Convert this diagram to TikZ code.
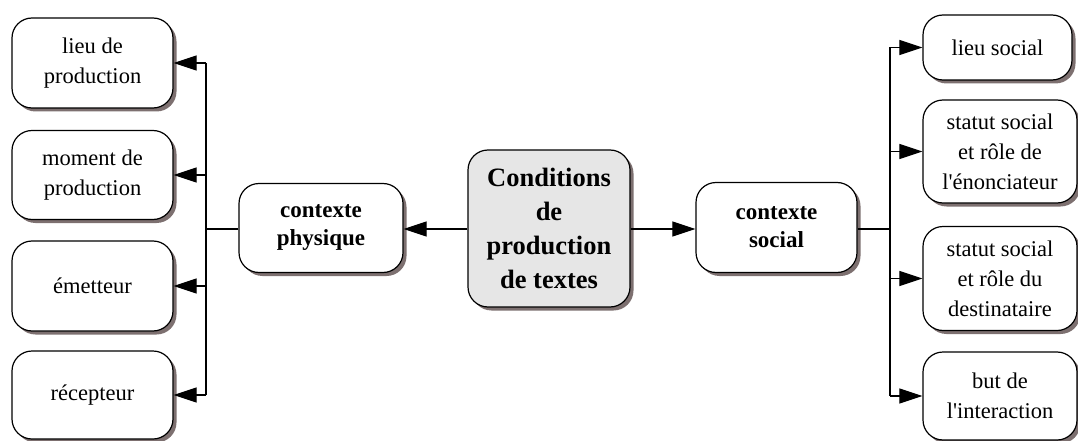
\documentclass[tikz,border=0pt]{standalone}
\usepackage{fontspec}
\setmainfont{Liberation Serif}
\usetikzlibrary{arrows.meta,shadows}
\definecolor{shadowc}{RGB}{125,112,112}
\definecolor{centerfill}{RGB}{230,230,230}
\tikzset{
  box/.style={draw, line width=1.2pt, rounded corners=20pt, fill=white, align=center,
    inner sep=0pt, font=\fontsize{22.5}{30}\selectfont,
    drop shadow={shadow xshift=3.5pt, shadow yshift=-3.5pt, fill=shadowc, opacity=1}},
  midbox/.style={box, font=\fontsize{23}{28}\selectfont\bfseries},
  bigbox/.style={box, fill=centerfill, font=\fontsize{26.5}{34}\selectfont\bfseries},
  conn/.style={line width=1.1pt, -{Triangle[length=23pt,width=15pt]}},
  link/.style={line width=1.1pt},
}
\begin{document}
\begin{tikzpicture}[x=1pt,y=-1pt]
\useasboundingbox (0,0) rectangle (1078,441);
% left column
\node[box, minimum width=161pt, minimum height=90pt] (l1) at (92.5,63) {lieu de\\production};
\node[box, minimum width=161pt, minimum height=89pt] (l2) at (92.5,175) {moment de\\production};
\node[box, minimum width=161pt, minimum height=90pt] (l3) at (92.5,286) {émetteur};
\node[box, minimum width=161pt, minimum height=88pt] (l4) at (92.5,395) {récepteur};
% middle
\node[midbox, minimum width=164pt, minimum height=89pt] (cp) at (321,228) {contexte\\physique};
\node[bigbox, minimum width=162pt, minimum height=157pt] (c) at (549,228.5) {Conditions\\de\\production\\de textes};
\node[midbox, minimum width=161pt, minimum height=90pt] (cs) at (776.5,227.5) {contexte\\social};
% right column
\node[box, minimum width=149pt, minimum height=65pt] (r1) at (997.5,47.5) {lieu social};
\node[box, minimum width=154pt, minimum height=103pt] (r2) at (1000,151.5) {statut social\\et rôle de\\l\textquotesingle énonciateur};
\node[box, minimum width=154pt, minimum height=104pt] (r3) at (1000,278.5) {statut social\\et rôle du\\destinataire};
\node[box, minimum width=154pt, minimum height=88pt] (r4) at (1000,396) {but de\\l\textquotesingle interaction};
% junctions
\coordinate (jl) at (206,229);
\coordinate (jr) at (890,229);
% connectors
\draw[conn] (c.west |- jl) -- (cp.east |- jl);
\draw[conn] (c.east |- jl) -- (cs.west |- jl);
\draw[link] (cp.west |- jl) -- (jl);
\draw[link] (cs.east |- jr) -- (jr);
\draw[link] (jl |- l1) -- (jl |- l4);
\draw[link] (jr |- r1) -- (jr |- r4);
\foreach \n in {l1,l2,l3,l4} \draw[conn] (jl |- \n) -- (\n.east);
\foreach \n in {r1,r2,r3,r4} \draw[conn] (jr |- \n) -- (\n.west);
\end{tikzpicture}
\end{document}
